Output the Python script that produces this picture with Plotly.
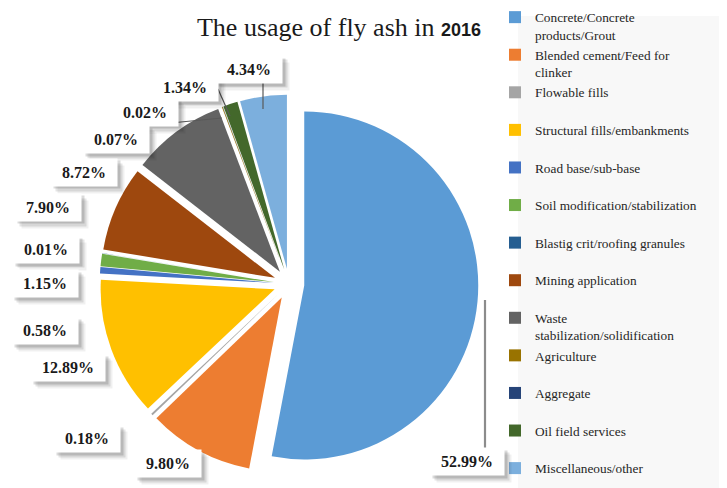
import plotly.graph_objects as go

W, H = 727, 488

# ---- data ----
categories = [
    "Concrete/Concrete products/Grout",
    "Blended cement/Feed for clinker",
    "Flowable fills",
    "Structural fills/embankments",
    "Road base/sub-base",
    "Soil modification/stabilization",
    "Blastig crit/roofing granules",
    "Mining application",
    "Waste stabilization/solidification",
    "Agriculture",
    "Aggregate",
    "Oil field services",
    "Miscellaneous/other",
]
shares = [52.99, 9.80, 0.18, 12.89, 0.58, 1.15, 0.01, 7.90, 8.72, 0.07, 0.02, 1.34, 4.34]

# legend display text (line breaks as in the original legend)
legend_text = [
    "Concrete/Concrete<br>products/Grout",
    "Blended cement/Feed for<br>clinker",
    "Flowable fills",
    "Structural fills/embankments",
    "Road base/sub-base",
    "Soil modification/stabilization",
    "Blastig crit/roofing granules",
    "Mining application",
    "Waste<br>stabilization/solidification",
    "Agriculture",
    "Aggregate",
    "Oil field services",
    "Miscellaneous/other",
]

# ---- style ----
colors = ["#5B9BD5", "#ED7D31", "#A5A5A5", "#FFC000", "#4472C4", "#70AD47",
          "#255E91", "#9E480E", "#636363", "#997300", "#264478", "#43682B", "#7CAFDD"]

# label box centres (pixels) - layout only
label_pos = [(459, 453), (160, 455), (79, 430), (60, 359), (37, 322), (37, 275),
             (38, 241), (40, 199), (76, 164), (108, 131), (137, 104), (177, 79), (241, 61)]

# leader lines (pixels) - decoration only
leaders = [((477, 292), (477, 441), 2.2, "#8c8c8c"),
           ((255, 74), (255, 101), 1.2, "#595959"),
           ((210, 81), (222, 108), 1.2, "#595959"),
           ((142, 117), (214, 110), 1.2, "#595959")]


def px(x):
    return x / W


def py(y):
    return 1 - y / H


def wrap_legend(t):
    return t if "<br>" in t else t + "<br> "


fig = go.Figure()

cx, cy, r, pull = 281, 276, 174, 0.088
half = r * (1 + pull)
fig.add_trace(go.Pie(
    labels=[wrap_legend(t) for t in legend_text],
    values=shares,
    sort=False,
    direction="clockwise",
    rotation=0,
    pull=[pull] * len(shares),
    marker=dict(colors=colors, line=dict(width=0)),
    textinfo="none",
    hovertext=categories,
    hoverinfo="text+percent",
    domain=dict(x=[px(cx - half), px(cx + half)], y=[py(cy + half), py(cy - half)]),
))

shapes = [dict(type="rect", xref="paper", yref="paper", x0=px(510), x1=1.0, y0=0, y1=py(8),
               fillcolor="#f8f8f8", line=dict(width=0), layer="below")]
for (x0, y0), (x1, y1), w, c in leaders:
    shapes.append(dict(type="line", xref="paper", yref="paper",
                       x0=px(x0), y0=py(y0), x1=px(x1), y1=py(y1),
                       line=dict(color=c, width=w)))

annotations = []
texts = [f"{v:.2f}%" for v in shares]
# soft drop shadows first
for t, (x, y) in zip(texts, label_pos):
    bw = 72 if len(t) > 5 else 64
    for off, a in ((7, 0.06), (5, 0.10), (3, 0.14)):
        annotations.append(dict(
            x=px(x + off), y=py(y + off), xref="paper", yref="paper",
            xanchor="center", yanchor="middle",
            text=" ", showarrow=False, width=bw, height=25,
            bgcolor=f"rgba(0,0,0,{a})", font=dict(size=14)))
for t, (x, y) in zip(texts, label_pos):
    bw = 72 if len(t) > 5 else 64
    annotations.append(dict(
        x=px(x), y=py(y), xref="paper", yref="paper",
        xanchor="center", yanchor="middle",
        text=f"<b>{t}</b>", showarrow=False, width=bw, height=25,
        bgcolor="white",
        font=dict(family="Liberation Serif", size=16, color="#1a1a1a")))

fig.update_layout(
    width=W, height=H,
    margin=dict(l=0, r=0, t=0, b=0, autoexpand=False),
    paper_bgcolor="white",
    title=dict(
        text="The usage of fly ash in <span style='font-family:Liberation Sans;font-size:18px'><b>2016</b></span>",
        x=px(331), xanchor="center", y=py(19), yanchor="middle",
        font=dict(family="Liberation Serif", size=26, color="#1a1a1a")),
    legend=dict(
        x=px(487), xanchor="left", y=py(-6), yanchor="top",
        maxheight=700,
        bgcolor="rgba(0,0,0,0)", valign="top",
        font=dict(family="Liberation Serif", size=13.3, color="#262626"),
        traceorder="normal"),
    shapes=shapes,
    annotations=annotations,
)

fig.write_html("out.html")
